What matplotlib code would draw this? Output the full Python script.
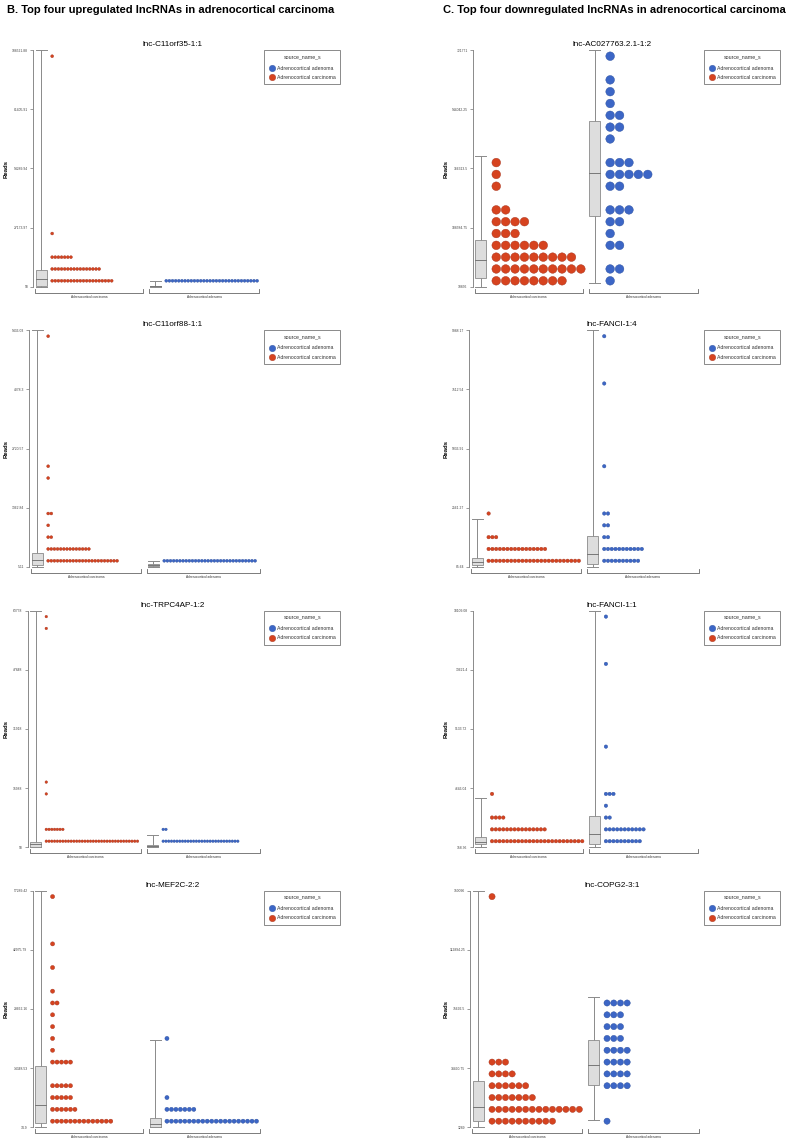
import matplotlib
matplotlib.use('Agg')
import matplotlib.pyplot as plt
from matplotlib.patches import Rectangle
from matplotlib.collections import EllipseCollection
import numpy as np

W, H = 794, 1142

RED = '#d6431f'
RED_EDGE = '#a3301a'
BLUE = '#3c66c6'
BLUE_EDGE = '#294d9c'
GRAY = '#8a8a8a'
BOX_FILL = '#dddddd'

group_names = ['Adrenocortical carcinoma', 'Adrenocortical adenoma']
legend_title = 'source_name_s'
legend_labels = ['Adrenocortical adenoma', 'Adrenocortical carcinoma']
headings = ['B. Top four upregulated lncRNAs in adrenocortical carcinoma',
            'C. Top four downregulated lncRNAs in adrenocortical carcinoma']

# panels: 0-3 = column B (top to bottom), 4-7 = column C
titles = ['lnc-C11orf35-1:1', 'lnc-C11orf88-1:1', 'lnc-TRPC4AP-1:2', 'lnc-MEF2C-2:2',
          'lnc-AC027763.2.1-1:2', 'lnc-FANCI-1:4', 'lnc-FANCI-1:1', 'lnc-COPG2-3:1']
y_min = [58, 5.11, 58, 34.9, 10856, 85.64, 158.36, 1289]
y_max = [108521.88, 5436.03, 63778, 57289.42, 721771, 9988.17, 18109.08, 150096]

# dot counts per bin (20 equal bins over the axis range, 0 = lowest)
carc_bins = [
    {0: 20, 1: 16, 2: 7, 4: 1, 19: 1},
    {0: 23, 1: 14, 2: 2, 3: 1, 4: 2, 7: 1, 8: 1, 19: 1},
    {0: 34, 1: 7, 4: 1, 5: 1, 18: 1, 19: 1},
    {0: 14, 1: 6, 2: 5, 3: 5, 5: 5, 6: 1, 7: 1, 8: 1, 9: 1, 10: 2, 11: 1, 13: 1, 15: 1, 19: 1},
    {0: 8, 1: 10, 2: 9, 3: 6, 4: 3, 5: 4, 6: 2, 8: 1, 9: 1, 10: 1},
    {0: 25, 1: 16, 2: 3, 4: 1},
    {0: 25, 1: 15, 2: 4, 4: 1},
    {0: 10, 1: 14, 2: 7, 3: 6, 4: 4, 5: 3, 19: 1},
]
aden_bins = [
    {0: 30},
    {0: 30},
    {0: 28, 1: 2},
    {0: 21, 1: 7, 2: 1, 7: 1},
    {0: 1, 1: 2, 3: 2, 4: 1, 5: 2, 6: 3, 8: 2, 9: 5, 10: 3, 12: 1, 13: 2, 14: 2, 15: 1, 16: 1, 17: 1, 19: 1},
    {0: 10, 1: 11, 2: 2, 3: 2, 4: 2, 8: 1, 15: 1, 19: 1},
    {0: 10, 1: 11, 2: 2, 3: 1, 4: 3, 8: 1, 15: 1, 19: 1},
    {0: 1, 3: 4, 4: 4, 5: 4, 6: 4, 7: 3, 8: 3, 9: 3, 10: 4},
]

# box stats: min, q1, median, q3, max
carc_box = [
    [58, 500, 3572, 7705, 108521.88],
    [5.11, 43.1, 157.2, 311.4, 5436.03],
    [58, 185, 759, 1498, 63778],
    [34.9, 920, 5340, 14870, 57289.42],
    [10856, 37871, 89768, 150195, 403992],
    [90, 155, 293, 462, 2096],
    [160, 356, 562, 894, 3856],
    [1289, 5000, 14000, 30000, 150096],
]
aden_box = [
    [60, 150, 200, 300, 2770],
    [6, 21.4, 48.6, 70.3, 140.9],
    [60, 313, 400, 504, 3371],
    [35, 40, 760, 2290, 21050],
    [20809, 224130, 352095, 509207, 721771],
    [85.64, 195, 620, 1373, 9988.17],
    [158.36, 386, 1146, 2510, 18109.08],
    [5690, 27720, 40290, 56050, 83100],
]

# layout in pixels
tops = [50.3, 330.3, 610.7, 890.7]
panel_h = 236.4
axis_x = [33.3, 29.3, 27.7, 32.7, 472.7, 469.3, 472.7, 470.5]
right_x = [259.5, 698.5]
title_cx = [172.7, 612]
legend_x = [264.3, 704.3]
ylabel_x = [6, 446]

fig = plt.figure(figsize=(W / 100, H / 100), dpi=100)
plt.rcParams['font.family'] = ['Liberation Sans', 'DejaVu Sans']


def fx(x):
    return x / W


def fy(y):
    return 1 - y / H


def fmt(v):
    return f'{v:.2f}'.rstrip('0').rstrip('.')


fig.text(fx(7), fy(10), headings[0], fontsize=8.0, fontweight='bold', va='center', ha='left')
fig.text(fx(443), fy(10), headings[1], fontsize=8.0, fontweight='bold', va='center', ha='left')

for idx in range(8):
    col, row = divmod(idx, 4)
    top = tops[row]
    bot = top + panel_h
    x_left = axis_x[idx]
    x_right = right_x[col]
    a, b = y_min[idx], y_max[idx]

    ax = fig.add_axes([fx(x_left), fy(bot), (x_right - x_left) / W, panel_h / H])
    ax.set_xlim(x_left, x_right)
    ax.set_ylim(a, b)
    ax.patch.set_visible(False)
    for s in ['top', 'right', 'bottom']:
        ax.spines[s].set_visible(False)
    ax.spines['left'].set_color(GRAY)
    ax.spines['left'].set_linewidth(0.7)
    ticks = np.linspace(a, b, 5)
    ax.set_yticks(ticks)
    ax.set_yticklabels([fmt(t) for t in ticks])
    ax.tick_params(axis='y', length=2.5, width=0.6, color=GRAY, labelsize=2.4, pad=1.2, labelcolor='#444444')
    ax.set_xticks([])

    fig.text(fx(title_cx[col]), fy(top - 5.5), titles[idx], fontsize=5.9, ha='center', va='center')
    fig.text(fx(ylabel_x[col]), fy(top + panel_h / 2), 'Reads', fontsize=4.3, fontweight='bold',
             rotation=90, ha='center', va='center')

    mid = (x_left + x_right) / 2
    starts = [x_left + 2, mid + 3]
    ends = [mid - 3, x_right]
    bin_h = (b - a) / 20
    all_bins = [carc_bins[idx], aden_bins[idx]]
    boxes = [carc_box[idx], aden_box[idx]]
    maxc = max(max(d.values()) for d in all_bins)
    sp = 94 / maxc
    px_to_ax = 1 / panel_h

    for g in range(2):
        x0 = starts[g] + 0.5
        bw = 11
        xc = x0 + bw / 2
        mn, q1, med, q3, mx = boxes[g]
        ax.plot([xc, xc], [mn, mx], color=GRAY, lw=0.7, zorder=1, clip_on=False)
        ax.plot([x0, x0 + bw], [mn, mn], color=GRAY, lw=0.7, zorder=1, clip_on=False)
        ax.plot([x0, x0 + bw], [mx, mx], color=GRAY, lw=0.7, zorder=1, clip_on=False)
        ax.add_patch(Rectangle((x0, q1), bw, q3 - q1, facecolor=BOX_FILL, edgecolor=GRAY,
                               lw=0.6, zorder=2, clip_on=False))
        ax.plot([x0, x0 + bw], [med, med], color='#777777', lw=0.7, zorder=2, clip_on=False)

        first = x0 + 14 + 0.75 * sp
        xs, ys = [], []
        for k, n in all_bins[g].items():
            for i in range(n):
                xs.append(first + i * sp)
                ys.append(a + (k + 0.5) * bin_h)
        fc, ec = (RED, RED_EDGE) if g == 0 else (BLUE, BLUE_EDGE)
        d = sp * 0.92
        dots = EllipseCollection(np.full(len(xs), d), np.full(len(xs), d), np.zeros(len(xs)),
                                 units='dots', offsets=np.column_stack([xs, ys]),
                                 offset_transform=ax.transData, facecolors=fc, edgecolors=ec,
                                 linewidths=0.3, zorder=3, clip_on=False)
        ax.add_collection(dots)

        # bracket-style x axis under each group
        tr = ax.get_xaxis_transform()
        yb = -6 * px_to_ax
        yt = -2 * px_to_ax
        ax.plot([starts[g], starts[g], ends[g], ends[g]], [yt, yb, yb, yt], color='#666666',
                lw=0.6, transform=tr, clip_on=False)
        ax.text((starts[g] + ends[g]) / 2, -10 * px_to_ax, group_names[g], transform=tr,
                fontsize=2.3, ha='center', va='center', color='#333333')

    # legend box
    lx = legend_x[col]
    fig.add_artist(Rectangle((fx(lx), fy(top + 34)), 76 / W, 34 / H, transform=fig.transFigure,
                             facecolor='white', edgecolor='#777777', lw=0.6))
    fig.text(fx(lx + 38), fy(top + 6.4), legend_title, fontsize=3.8, ha='center', va='center', color='#333333')
    for j, (lab, fc, ec) in enumerate([(legend_labels[0], BLUE, BLUE_EDGE), (legend_labels[1], RED, RED_EDGE)]):
        yy = top + 17.7 + j * 9.3
        fig.add_artist(plt.Line2D([fx(lx + 7.4)], [fy(yy)], marker='o', markersize=6.4 * 0.72,
                                  markerfacecolor=fc, markeredgecolor=ec, markeredgewidth=0.3,
                                  transform=fig.transFigure))
        fig.text(fx(lx + 13), fy(yy), lab, fontsize=3.7, ha='left', va='center', color='#333333')

fig.savefig('out.png', dpi=100)
